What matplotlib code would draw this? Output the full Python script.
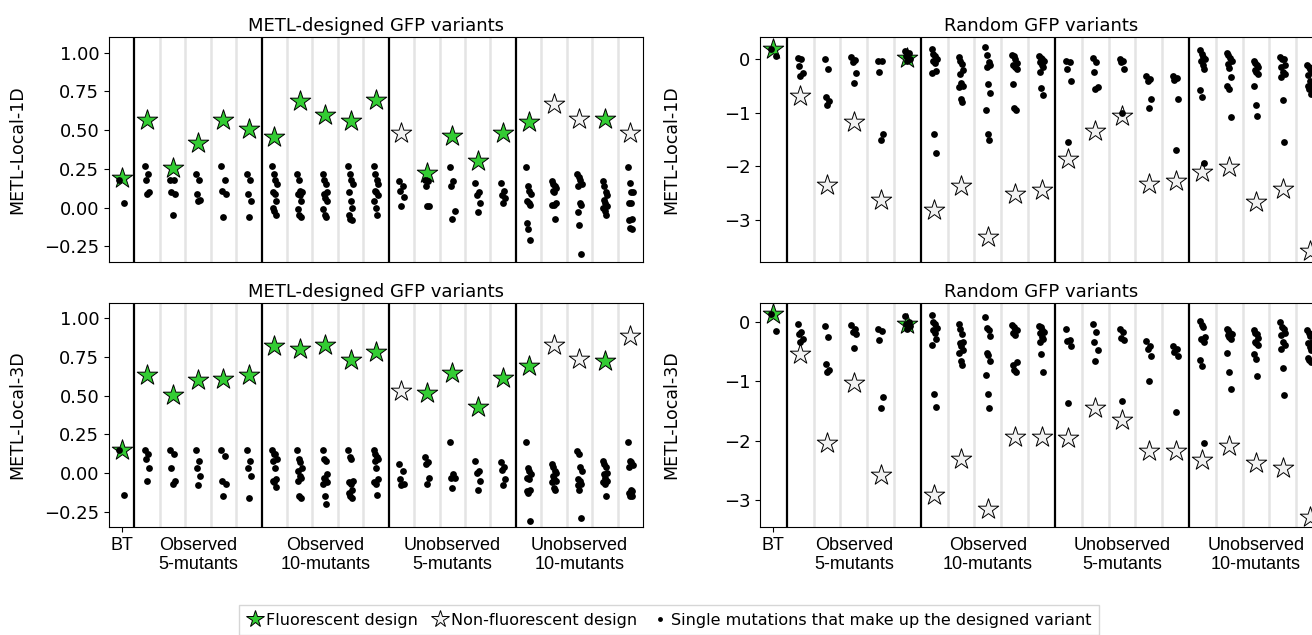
import numpy as np
from matplotlib import pyplot as plt
from matplotlib.lines import Line2D

# column order: BT, then 4 groups of 5 designs
group_labels = ["Observed\n5-mutants", "Observed\n10-mutants",
                "Unobserved\n5-mutants", "Unobserved\n10-mutants"]

# METL-designed variants, METL-Local-1D scores
metl_1d_star = [0.19, 0.565, 0.258, 0.415, 0.565, 0.507, 0.457, 0.687, 0.60, 0.558, 0.694,
                0.483, 0.225, 0.462, 0.303, 0.483, 0.554, 0.668, 0.57, 0.573, 0.479]
metl_1d_fluor = [1, 1, 1, 1, 1, 1, 1, 1, 1, 1, 1, 0, 1, 1, 1, 1, 1, 0, 0, 1, 0]
metl_1d_muts = [
    [0.18, 0.03],
    [0.27, 0.22, 0.18, 0.10, 0.09],
    [0.18, 0.18, 0.10, 0.09, -0.05],
    [0.22, 0.18, 0.09, 0.05, 0.04],
    [0.27, 0.18, 0.11, 0.09, -0.06],
    [0.22, 0.18, 0.09, 0.04, -0.06],
    [0.27, 0.22, 0.18, 0.15, 0.10, 0.09, 0.04, 0.00, -0.02, -0.05],
    [0.22, 0.18, 0.11, 0.10, 0.09, 0.08, 0.04, -0.01, -0.05, -0.06],
    [0.22, 0.18, 0.15, 0.10, 0.09, 0.06, 0.04, -0.01, -0.05, -0.06],
    [0.27, 0.22, 0.18, 0.15, 0.10, 0.04, 0.00, -0.05, -0.07, -0.08],
    [0.27, 0.22, 0.18, 0.15, 0.11, 0.10, 0.08, 0.04, 0.00, -0.05],
    [0.17, 0.14, 0.11, 0.07, 0.01],
    [0.18, 0.17, 0.14, 0.01, 0.01],
    [0.26, 0.17, 0.14, -0.02, -0.07],
    [0.16, 0.10, 0.08, 0.03, -0.03],
    [0.16, 0.11, 0.08, 0.06, 0.03],
    [0.26, 0.14, 0.11, 0.09, 0.04, 0.03, 0.02, -0.10, -0.14, -0.21],
    [0.17, 0.15, 0.14, 0.13, 0.11, 0.10, 0.03, 0.02, 0.02, -0.07],
    [0.22, 0.20, 0.18, 0.15, 0.14, 0.03, 0.02, -0.03, -0.11, -0.30],
    [0.17, 0.14, 0.10, 0.08, 0.05, 0.03, 0.01, 0.00, -0.02, -0.05],
    [0.26, 0.16, 0.10, 0.10, 0.03, 0.03, -0.07, -0.08, -0.13, -0.14],
]

# METL-designed variants, METL-Local-3D scores
metl_3d_star = [0.149, 0.637, 0.504, 0.60, 0.607, 0.637, 0.822, 0.805, 0.827, 0.734, 0.784,
                0.532, 0.515, 0.648, 0.424, 0.616, 0.691, 0.827, 0.74, 0.725, 0.885]
metl_3d_fluor = [1, 1, 1, 1, 1, 1, 1, 1, 1, 1, 1, 0, 1, 1, 1, 1, 1, 0, 0, 1, 0]
metl_3d_muts = [
    [0.15, -0.14],
    [0.15, 0.12, 0.09, 0.03, -0.05],
    [0.15, 0.12, 0.03, -0.05, -0.07],
    [0.15, 0.08, 0.03, -0.02, -0.08],
    [0.15, 0.11, -0.05, -0.07, -0.15],
    [0.15, 0.08, 0.03, -0.02, -0.16],
    [0.15, 0.12, 0.12, 0.09, 0.08, 0.03, -0.04, -0.05, -0.06, -0.09],
    [0.15, 0.09, 0.07, 0.03, 0.01, -0.02, -0.03, -0.05, -0.15, -0.16],
    [0.15, 0.09, 0.08, -0.01, -0.03, -0.04, -0.06, -0.07, -0.15, -0.20],
    [0.15, 0.10, 0.09, -0.05, -0.06, -0.07, -0.11, -0.13, -0.15, -0.16],
    [0.15, 0.12, 0.10, 0.09, 0.08, 0.03, -0.04, -0.06, -0.07, -0.14],
    [0.06, 0.01, -0.04, -0.07, -0.08],
    [0.10, 0.07, 0.06, -0.03, -0.07],
    [0.20, -0.01, -0.03, -0.03, -0.10],
    [0.08, 0.01, 0.00, -0.05, -0.11],
    [0.07, 0.04, 0.02, -0.04, -0.08],
    [0.20, 0.03, 0.01, -0.01, -0.03, -0.04, -0.11, -0.12, -0.13, -0.31],
    [0.06, 0.04, 0.01, 0.00, -0.02, -0.04, -0.05, -0.06, -0.10, -0.11],
    [0.14, 0.12, 0.04, 0.01, -0.04, -0.05, -0.07, -0.08, -0.11, -0.29],
    [0.08, 0.06, 0.04, 0.00, -0.01, -0.03, -0.05, -0.06, -0.07, -0.15],
    [0.20, 0.08, 0.07, 0.05, 0.04, -0.11, -0.12, -0.13, -0.15, -0.15],
]

# random variants, METL-Local-1D scores
rand_1d_star = [0.18, -0.70, -2.35, -1.17, -2.63, 0.01, -2.80, -2.36, -3.31, -2.51, -2.44,
                -1.87, -1.34, -1.06, -2.33, -2.27, -2.10, -2.01, -2.66, -2.41, -3.56]
rand_1d_fluor = [1, 0, 0, 0, 0, 1, 0, 0, 0, 0, 0, 0, 0, 0, 0, 0, 0, 0, 0, 0, 0]
rand_1d_muts = [
    [0.18, 0.04],
    [0.01, 0.00, -0.13, -0.27, -0.33],
    [0.00, -0.19, -0.72, -0.79, -0.86],
    [0.03, -0.02, -0.06, -0.26, -0.45],
    [-0.05, -0.05, -0.25, -1.39, -1.51],
    [0.14, 0.10, 0.05, 0.00, -0.04],
    [0.18, 0.09, 0.04, 0.00, -0.05, -0.09, -0.23, -0.26, -1.39, -1.75],
    [0.03, -0.04, -0.10, -0.22, -0.28, -0.45, -0.50, -0.53, -0.75, -0.81],
    [0.21, 0.06, -0.06, -0.12, -0.15, -0.47, -0.63, -0.96, -1.39, -1.51],
    [0.06, 0.04, 0.00, -0.08, -0.12, -0.15, -0.19, -0.48, -0.91, -0.95],
    [0.04, 0.02, 0.00, -0.04, -0.06, -0.12, -0.15, -0.24, -0.55, -0.68],
    [-0.04, -0.06, -0.19, -0.42, -1.54],
    [0.01, -0.06, -0.24, -0.53, -0.56],
    [0.00, -0.04, -0.06, -0.19, -1.01],
    [-0.33, -0.38, -0.42, -0.75, -0.92],
    [-0.32, -0.36, -0.40, -0.74, -1.70],
    [0.16, 0.08, 0.03, -0.01, -0.05, -0.12, -0.19, -0.59, -0.71, -1.94],
    [0.11, 0.06, 0.01, -0.04, -0.10, -0.17, -0.34, -0.50, -0.56, -1.08],
    [-0.04, -0.08, -0.11, -0.15, -0.21, -0.24, -0.28, -0.50, -0.86, -1.06],
    [0.03, 0.00, -0.01, -0.11, -0.16, -0.25, -0.28, -0.34, -0.77, -1.54],
    [-0.12, -0.15, -0.19, -0.24, -0.30, -0.42, -0.47, -0.50, -0.56, -0.65],
]

# random variants, METL-Local-3D scores
rand_3d_star = [0.14, -0.54, -2.04, -1.02, -2.57, -0.04, -2.91, -2.31, -3.15, -1.93, -1.93,
                -1.96, -1.44, -1.65, -2.17, -2.17, -2.32, -2.08, -2.37, -2.46, -3.29]
rand_3d_fluor = [1, 0, 0, 0, 0, 1, 0, 0, 0, 0, 0, 0, 0, 0, 0, 0, 0, 0, 0, 0, 0]
rand_3d_muts = [
    [0.14, -0.15],
    [-0.04, -0.17, -0.20, -0.28, -0.34],
    [-0.07, -0.26, -0.70, -0.81, -0.84],
    [-0.05, -0.12, -0.17, -0.21, -0.44],
    [-0.11, -0.15, -0.30, -1.26, -1.45],
    [0.10, 0.00, -0.03, -0.07, -0.11],
    [0.12, 0.00, -0.04, -0.10, -0.14, -0.18, -0.28, -0.39, -1.21, -1.43],
    [-0.04, -0.12, -0.21, -0.33, -0.36, -0.41, -0.47, -0.52, -0.65, -0.72],
    [0.08, -0.10, -0.14, -0.23, -0.52, -0.56, -0.65, -0.90, -1.21, -1.45],
    [-0.05, -0.08, -0.12, -0.14, -0.19, -0.22, -0.67, -0.72, -0.81, -0.84],
    [-0.06, -0.09, -0.14, -0.16, -0.19, -0.25, -0.29, -0.33, -0.54, -0.84],
    [-0.12, -0.30, -0.32, -0.41, -1.37],
    [-0.04, -0.17, -0.33, -0.47, -0.66],
    [-0.12, -0.16, -0.27, -0.30, -1.33],
    [-0.32, -0.40, -0.45, -0.58, -1.00],
    [-0.41, -0.45, -0.50, -0.58, -1.51],
    [0.02, -0.05, -0.08, -0.25, -0.28, -0.30, -0.33, -0.64, -0.74, -2.04],
    [-0.11, -0.14, -0.18, -0.20, -0.22, -0.25, -0.29, -0.52, -0.84, -1.12],
    [-0.14, -0.18, -0.21, -0.27, -0.33, -0.36, -0.39, -0.53, -0.62, -0.91],
    [0.00, -0.08, -0.12, -0.18, -0.22, -0.33, -0.38, -0.45, -0.77, -1.22],
    [-0.14, -0.19, -0.24, -0.33, -0.36, -0.42, -0.47, -0.60, -0.64, -0.67],
]

GREEN = "#33cc33"
HOLLOW = "#f2f2f2"
STAR_S = 240
DOT_S = 24

plt.rcParams["font.family"] = "DejaVu Sans"
plt.rcParams["font.size"] = 12


def jitter(n, width=0.18):
    # fixed spread so the dots in a column don't sit on top of each other
    if n < 2:
        return np.zeros(n)
    order = (np.arange(n) * 3) % n
    return (order / (n - 1) - 0.5) * width


def draw_panel(ax, stars, fluor, muts, title, ylabel, ylim, show_xlabels):
    n = len(stars)
    for c in range(n):
        if c in (1, 6, 11, 16):
            ax.axvline(c - 0.5, color="black", lw=1.6, zorder=1)
        elif c > 0:
            ax.axvline(c - 0.5, color="#e4e4e4", lw=1.8, zorder=0)

    x = np.arange(n)
    fl = np.array(fluor, dtype=bool)
    st = np.array(stars)
    ax.scatter(x[fl], st[fl], marker="*", s=STAR_S, color=GREEN,
               edgecolors="black", linewidths=0.7, zorder=3)
    ax.scatter(x[~fl], st[~fl], marker="*", s=STAR_S, color=HOLLOW,
               edgecolors="black", linewidths=0.7, zorder=3)

    for c, vals in enumerate(muts):
        ax.scatter(c + jitter(len(vals)), vals, s=DOT_S, color="black",
                   linewidths=0, zorder=4)

    ax.set_xlim(-0.5, n - 0.5)
    ax.set_ylim(*ylim)
    ax.set_title(title, fontsize=13, pad=4)
    ax.set_ylabel(ylabel, fontsize=12.5)
    ax.tick_params(axis="y", labelsize=13)

    if show_xlabels:
        ax.set_xticks([0, 3, 8, 13, 18])
        ax.set_xticklabels(["BT"] + group_labels, fontsize=13,
                           family="Liberation Sans", linespacing=1.15)
        for i, tick in enumerate(ax.xaxis.get_major_ticks()):
            if i > 0:
                tick.tick1line.set_visible(False)
    else:
        ax.set_xticks([])


fig = plt.figure(figsize=(13.12, 6.35), dpi=100)

left_x, left_w = 109 / 1312, 534 / 1312
right_x, right_w = 760 / 1312, 563 / 1312
top_y, top_h = 1 - 262 / 635, 225 / 635
bot_y, bot_h = 1 - 527 / 635, 224 / 635

ax_a = fig.add_axes([left_x, top_y, left_w, top_h])
ax_b = fig.add_axes([right_x, top_y, right_w, top_h])
ax_c = fig.add_axes([left_x, bot_y, left_w, bot_h])
ax_d = fig.add_axes([right_x, bot_y, right_w, bot_h])

draw_panel(ax_a, metl_1d_star, metl_1d_fluor, metl_1d_muts,
           "METL-designed GFP variants", "METL-Local-1D", (-0.35, 1.10), False)
draw_panel(ax_b, rand_1d_star, rand_1d_fluor, rand_1d_muts,
           "Random GFP variants", "METL-Local-1D", (-3.77, 0.40), False)
draw_panel(ax_c, metl_3d_star, metl_3d_fluor, metl_3d_muts,
           "METL-designed GFP variants", "METL-Local-3D", (-0.35, 1.10), True)
draw_panel(ax_d, rand_3d_star, rand_3d_fluor, rand_3d_muts,
           "Random GFP variants", "METL-Local-3D", (-3.45, 0.32), True)

for ax in (ax_a, ax_c):
    ax.set_yticks([1.0, 0.75, 0.5, 0.25, 0.0, -0.25])
    ax.set_yticklabels(["1.00", "0.75", "0.50", "0.25", "0.00", "\u22120.25"])
    ax.yaxis.set_label_coords(-0.155, 0.5)
for ax in (ax_b, ax_d):
    ax.set_yticks([0, -1, -2, -3])
    ax.yaxis.set_label_coords(-0.142, 0.5)

handles = [
    Line2D([], [], marker="*", ls="", markersize=13, markerfacecolor=GREEN,
           markeredgecolor="black", markeredgewidth=0.7),
    Line2D([], [], marker="*", ls="", markersize=13, markerfacecolor=HOLLOW,
           markeredgecolor="black", markeredgewidth=0.7),
    Line2D([], [], marker="o", ls="", markersize=3.5, markerfacecolor="black",
           markeredgewidth=0),
]
labels = ["Fluorescent design", "Non-fluorescent design",
          "Single mutations that make up the designed variant"]
fig.legend(handles, labels, loc="center", bbox_to_anchor=(669 / 1312, 1 - 620 / 635),
           ncol=3, fontsize=11.5, handlelength=1.0, handletextpad=0.2,
           columnspacing=0.9, frameon=True, edgecolor="#cccccc", fancybox=False,
           borderpad=0.5)

fig.savefig("out.png", dpi=100)
